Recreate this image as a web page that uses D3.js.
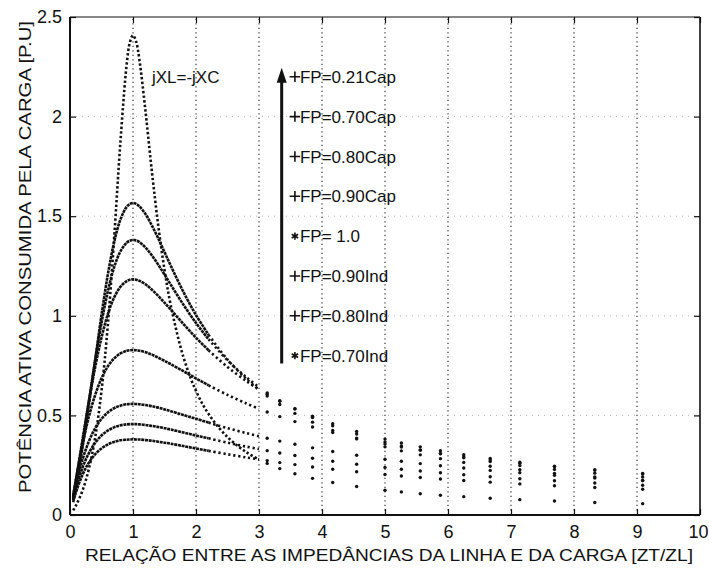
<!DOCTYPE html>
<html>
<head>
<meta charset="utf-8">
<script src="https://cdn.jsdelivr.net/npm/d3@7"></script>
<style>
  html, body { margin: 0; padding: 0; background: #fff; }
  svg text { font-family: "Liberation Sans", Arial, Helvetica, sans-serif; fill: #111; }
</style>
</head>
<body>
<svg id="chart" width="709" height="569"></svg>
<script>
// Ratio ZT/ZL sampled along each curve (continuous part and sparse tail)
const ratioLine = [0.05,0.1,0.2,0.3,0.4,0.5,0.6,0.7,0.8,0.9,0.95,1.0,1.05,1.1,1.2,1.3,1.4,1.5,1.6,1.8,2.0,2.2,2.5,2.8,3.0];
const ratioTail = [3.13,3.33,3.57,3.85,4.17,4.55,5.0,5.26,5.56,5.88,6.25,6.67,7.14,7.69,8.33,9.09];

// Active power consumed by the load [p.u.] for each power factor
const fp021Cap = [0.023,0.051,0.124,0.232,0.391,0.623,0.952,1.386,1.872,2.263,2.372,2.408,2.376,2.289,2.022,1.724,1.455,1.231,1.052,0.793,0.623,0.507,0.391,0.315,0.279];
const fp021CapTail = [0.259,0.233,0.207,0.184,0.163,0.143,0.124,0.116,0.107,0.099,0.092,0.084,0.077,0.070,0.063,0.057];
const fp070Cap = [0.074,0.156,0.342,0.554,0.780,1.004,1.206,1.369,1.483,1.547,1.561,1.566,1.562,1.550,1.510,1.453,1.389,1.320,1.251,1.120,1.004,0.904,0.780,0.683,0.629];
const fp070CapTail = [0.597,0.555,0.510,0.466,0.424,0.382,0.342,0.322,0.302,0.283,0.264,0.245,0.227,0.209,0.191,0.173];
const fp080Cap = [0.083,0.173,0.367,0.573,0.777,0.964,1.122,1.243,1.323,1.367,1.377,1.381,1.378,1.370,1.342,1.303,1.257,1.207,1.156,1.056,0.964,0.882,0.777,0.691,0.642];
const fp080CapTail = [0.613,0.574,0.532,0.489,0.448,0.407,0.367,0.347,0.327,0.307,0.287,0.268,0.248,0.229,0.210,0.191];
const fp090Cap = [0.092,0.187,0.381,0.571,0.743,0.890,1.007,1.091,1.145,1.174,1.181,1.183,1.181,1.176,1.158,1.131,1.100,1.066,1.031,0.959,0.890,0.827,0.743,0.672,0.630];
const fp090CapTail = [0.606,0.571,0.534,0.496,0.458,0.419,0.381,0.362,0.342,0.323,0.303,0.284,0.265,0.245,0.226,0.206];
const fp100 = [0.098,0.190,0.356,0.494,0.603,0.686,0.746,0.786,0.811,0.824,0.827,0.828,0.827,0.825,0.817,0.805,0.790,0.774,0.757,0.722,0.686,0.651,0.603,0.560,0.533];
const fp100Tail = [0.517,0.494,0.469,0.442,0.414,0.386,0.356,0.341,0.325,0.309,0.293,0.276,0.260,0.243,0.226,0.208];
const fp090Ind = [0.085,0.159,0.280,0.370,0.436,0.483,0.515,0.536,0.549,0.556,0.557,0.558,0.557,0.556,0.552,0.546,0.539,0.530,0.521,0.502,0.483,0.464,0.436,0.411,0.395];
const fp090IndTail = [0.385,0.371,0.355,0.337,0.319,0.300,0.280,0.270,0.258,0.247,0.236,0.224,0.212,0.199,0.186,0.173];
const fp080Ind = [0.074,0.138,0.239,0.311,0.363,0.399,0.424,0.440,0.450,0.455,0.456,0.456,0.456,0.455,0.452,0.447,0.442,0.436,0.429,0.414,0.399,0.385,0.363,0.343,0.331];
const fp080IndTail = [0.323,0.311,0.299,0.285,0.270,0.255,0.239,0.230,0.221,0.212,0.202,0.192,0.182,0.172,0.161,0.149];
const fp070Ind = [0.064,0.119,0.203,0.263,0.305,0.334,0.354,0.367,0.375,0.378,0.379,0.380,0.379,0.379,0.376,0.373,0.368,0.363,0.358,0.346,0.334,0.322,0.305,0.289,0.279];
const fp070IndTail = [0.273,0.263,0.253,0.241,0.230,0.217,0.203,0.196,0.188,0.181,0.173,0.165,0.156,0.147,0.138,0.129];

// Legend text, label heights (in p.u.) and marker type
const fpLabels = ["FP=0.21Cap","FP=0.70Cap","FP=0.80Cap","FP=0.90Cap","FP= 1.0","FP=0.90Ind","FP=0.80Ind","FP=0.70Ind"];
const fpLabelY = [2.2,2.0,1.8,1.6,1.4,1.2,1.0,0.8];
const fpMarker = ["plus","plus","plus","plus","asterisk","plus","plus","asterisk"];

const xTicks = [0,1,2,3,4,5,6,7,8,9,10];
const xTickLabels = ["0","1","2","3","4","5","6","7","8","9","10"];
const yTicks = [0,0.5,1,1.5,2,2.5];
const yTickLabels = ["0","0.5","1","1.5","2","2.5"];

const xTitle = "RELAÇÃO ENTRE AS IMPEDÂNCIAS DA LINHA E DA CARGA [ZT/ZL]";
const yTitle = "POTÊNCIA ATIVA CONSUMIDA PELA CARGA  [P.U]";
const resonanceNote = "jXL=-jXC";

const series = [
  {line: fp021Cap, tail: fp021CapTail, sparse: true},
  {line: fp070Cap, tail: fp070CapTail},
  {line: fp080Cap, tail: fp080CapTail},
  {line: fp090Cap, tail: fp090CapTail},
  {line: fp100,    tail: fp100Tail},
  {line: fp090Ind, tail: fp090IndTail},
  {line: fp080Ind, tail: fp080IndTail},
  {line: fp070Ind, tail: fp070IndTail}
];

// ---- layout ----
const svg = d3.select("#chart");
const m = {left: 70, right: 9, top: 17, bottom: 54};
const W = 709, H = 569;
const x = d3.scaleLinear().domain([0, 10]).range([m.left, W - m.right]);
const y = d3.scaleLinear().domain([0, 2.5]).range([H - m.bottom, m.top]);
const ink = "#111";

svg.append("defs").append("clipPath").attr("id", "plotClip")
  .append("rect").attr("x", x(0)).attr("y", y(2.5))
  .attr("width", x(10) - x(0)).attr("height", y(0) - y(2.5));

// grid
const grid = svg.append("g");
grid.selectAll("line.vg").data(xTicks.slice(1, -1)).join("line")
  .attr("x1", d => x(d)).attr("x2", d => x(d))
  .attr("y1", y(0)).attr("y2", y(2.5))
  .attr("stroke", "#222").attr("stroke-width", 1.1).attr("stroke-dasharray", "1.2,3.3");
grid.selectAll("line.hg").data(yTicks.slice(1, -1)).join("line")
  .attr("x1", x(0)).attr("x2", x(10))
  .attr("y1", d => y(d)).attr("y2", d => y(d))
  .attr("stroke", "#b5b5b5").attr("stroke-width", 1).attr("stroke-dasharray", "1,5");

// curves
const plot = svg.append("g").attr("clip-path", "url(#plotClip)");
const lineGen = d3.line().x(d => x(d[0])).y(d => y(d[1])).curve(d3.curveCatmullRom);

series.forEach(s => {
  const pts = ratioLine.map((r, i) => [r, s.line[i]]);
  if (s.sparse) {
    plot.append("path").attr("d", lineGen(pts))
      .attr("fill", "none").attr("stroke", ink).attr("stroke-width", 2.6)
      .attr("stroke-dasharray", "2.4,2.2");
  } else {
    const dense = pts.filter(p => p[0] <= 2.2);
    const loose = pts.filter(p => p[0] >= 2.2);
    plot.append("path").attr("d", lineGen(dense))
      .attr("fill", "none").attr("stroke", ink).attr("stroke-width", 2.6)
      .attr("stroke-dasharray", "3,0.7");
    plot.append("path").attr("d", lineGen(loose))
      .attr("fill", "none").attr("stroke", ink).attr("stroke-width", 2.6)
      .attr("stroke-dasharray", "2.2,2.8");
  }
  plot.selectAll(null).data(ratioTail.map((r, i) => [r, s.tail[i]])).join("circle")
    .attr("cx", d => x(d[0])).attr("cy", d => y(d[1])).attr("r", 1.7).attr("fill", ink);
});

// axes (ticks pointing inward)
const fmtX = (d, i) => xTickLabels[i];
const fmtY = (d, i) => yTickLabels[i];
const axB = svg.append("g").attr("transform", `translate(0,${y(0)})`)
  .call(d3.axisBottom(x).tickValues(xTicks).tickFormat(fmtX).tickSize(-6).tickPadding(10));
const axL = svg.append("g").attr("transform", `translate(${x(0)},0)`)
  .call(d3.axisLeft(y).tickValues(yTicks).tickFormat(fmtY).tickSize(-6).tickPadding(8));
const axT = svg.append("g").attr("transform", `translate(0,${y(2.5)})`)
  .call(d3.axisTop(x).tickValues(xTicks).tickFormat("").tickSize(-6));
const axR = svg.append("g").attr("transform", `translate(${x(10)},0)`)
  .call(d3.axisRight(y).tickValues(yTicks).tickFormat("").tickSize(-6));
[axB, axL, axT, axR].forEach(a => {
  a.select(".domain").remove();
  a.selectAll(".tick line").attr("stroke", ink).attr("stroke-width", 1.2);
  a.selectAll(".tick text").style("font-size", "18px").attr("fill", ink);
});
// keep the last x label inside the page
axB.selectAll(".tick text").filter(d => d === 10).attr("text-anchor", "end").attr("x", 8);

// frame
svg.append("line").attr("x1", x(0)).attr("x2", x(10)).attr("y1", y(2.5)).attr("y2", y(2.5))
  .attr("stroke", ink).attr("stroke-width", 1.2);
svg.append("line").attr("x1", x(10)).attr("x2", x(10)).attr("y1", y(2.5)).attr("y2", y(0))
  .attr("stroke", ink).attr("stroke-width", 1.6);
svg.append("line").attr("x1", x(0)).attr("x2", x(10)).attr("y1", y(0)).attr("y2", y(0))
  .attr("stroke", ink).attr("stroke-width", 2);
svg.append("line").attr("x1", x(0)).attr("x2", x(0)).attr("y1", y(2.5)).attr("y2", y(0))
  .attr("stroke", ink).attr("stroke-width", 2);

// axis titles
svg.append("text").attr("x", 389).attr("y", 561).attr("text-anchor", "middle")
  .style("font-size", "17px").attr("textLength", 608).attr("lengthAdjust", "spacingAndGlyphs")
  .text(xTitle);
svg.append("text").attr("transform", "translate(31,257) rotate(-90)").attr("text-anchor", "middle")
  .style("font-size", "17px").attr("textLength", 472).attr("lengthAdjust", "spacingAndGlyphs")
  .text(yTitle);

// resonance annotation
svg.append("text").attr("x", x(1.3)).attr("y", y(2.2)).attr("dy", "0.36em")
  .style("font-size", "17px").text(resonanceNote);

// arrow showing the order of the power factors
const arrowX = x(3.36);
svg.append("line").attr("x1", arrowX).attr("x2", arrowX)
  .attr("y1", y(0.76)).attr("y2", y(2.2))
  .attr("stroke", ink).attr("stroke-width", 3);
svg.append("path")
  .attr("d", `M${arrowX},${y(2.245)} L${arrowX - 5},${y(2.245) + 15} L${arrowX + 5},${y(2.245) + 15} Z`)
  .attr("fill", ink);

// legend labels with markers
const lg = svg.append("g");
fpLabels.forEach((t, i) => {
  const cy = y(fpLabelY[i]);
  lg.append("path")
    .attr("transform", `translate(${x(3.57)},${cy})`)
    .attr("d", d3.symbol().type(fpMarker[i] === "asterisk" ? d3.symbolAsterisk : d3.symbolPlus).size(38)())
    .attr("fill", "none").attr("stroke", ink).attr("stroke-width", 1.6);
  lg.append("text").attr("x", x(3.57) + 5).attr("y", cy).attr("dy", "0.36em")
    .style("font-size", "17px").text(t);
});
</script>
</body>
</html>
